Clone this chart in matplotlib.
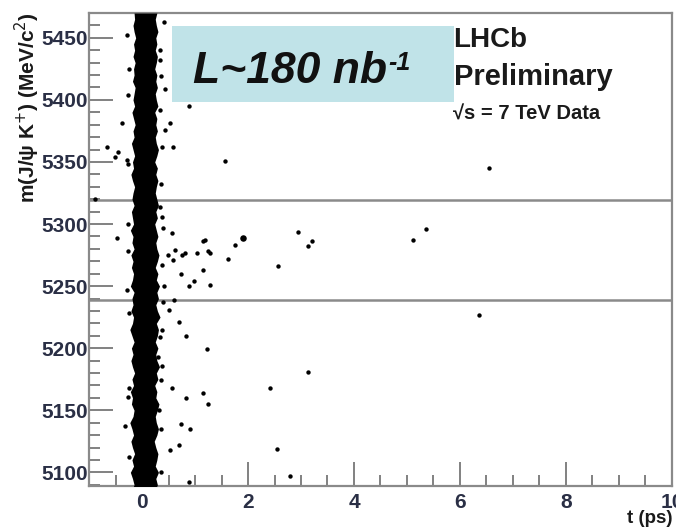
import numpy as np
import matplotlib.pyplot as plt
from matplotlib.patches import Rectangle
from matplotlib.ticker import MultipleLocator

plt.rcParams['font.family'] = ['Liberation Sans', 'DejaVu Sans']

# dense prompt band around t=0: edges every 5 MeV
band_mass = np.arange(5080, 5471, 5)
band_left = [-0.17, -0.20, -0.15, -0.18, -0.22, -0.16, -0.19, -0.14, -0.18, -0.21,
             -0.16, -0.19, -0.23, -0.17, -0.15, -0.20, -0.18, -0.22, -0.16, -0.19,
             -0.14, -0.18, -0.21, -0.17, -0.20, -0.15, -0.19, -0.23, -0.18, -0.16,
             -0.21, -0.17, -0.19, -0.15, -0.22, -0.18, -0.16, -0.20, -0.17, -0.21,
             -0.15, -0.19, -0.17, -0.22, -0.16, -0.18, -0.20, -0.15, -0.19, -0.17,
             -0.14, -0.18, -0.21, -0.16, -0.18, -0.14, -0.17, -0.20, -0.15, -0.17,
             -0.13, -0.16, -0.19, -0.14, -0.17, -0.15, -0.13, -0.18, -0.15, -0.16,
             -0.13, -0.17, -0.14, -0.16, -0.12, -0.15, -0.17, -0.14, -0.15]
band_right = [0.27, 0.24, 0.29, 0.26, 0.31, 0.25, 0.28, 0.30, 0.26, 0.23,
              0.28, 0.31, 0.27, 0.25, 0.29, 0.32, 0.26, 0.28, 0.24, 0.30,
              0.27, 0.33, 0.28, 0.26, 0.30, 0.25, 0.29, 0.31, 0.27, 0.34,
              0.29, 0.26, 0.31, 0.28, 0.33, 0.27, 0.30, 0.25, 0.29, 0.32,
              0.28, 0.26, 0.30, 0.27, 0.24, 0.29, 0.26, 0.31, 0.28, 0.25,
              0.27, 0.30, 0.26, 0.29, 0.24, 0.28, 0.31, 0.27, 0.25, 0.29,
              0.26, 0.28, 0.24, 0.30, 0.27, 0.25, 0.29, 0.26, 0.28, 0.24,
              0.27, 0.29, 0.25, 0.28, 0.26, 0.30, 0.27, 0.25, 0.28]

# isolated candidates
t_pts = [-0.29, 0.88, 1.56, 6.55, 0.41, 0.36, 0.44, -0.38, -0.66, -0.51,
         -0.45, -0.29, -0.26, 0.38, 0.59, 0.43, 0.53, 0.33, -0.89, 0.37,
         0.39, 0.56, 0.49, 0.62, 0.58, 0.75, 0.81, 1.03, 1.15, 1.19,
         1.29, 1.25, 1.63, 1.76, 2.57, 2.94, 3.14, 3.21, 5.12, 5.35,
         0.73, 1.16, 0.88, 0.98, 1.29, 0.42, 0.61, 0.50, 0.69, 0.83,
         1.22, 6.35, 3.14, 2.41, 0.56, 0.83, 1.15, 1.25, 0.73, 0.91,
         0.53, 0.69, 2.55, 2.80, 0.88, -0.48, -0.26, -0.29, -0.32, 0.34,
         0.35, 0.31, 0.36, 0.40, 0.37, -0.25, -0.27, 0.33, 0.36, 0.35,
         -0.24, -0.26, 0.32, 0.37, -0.27, -0.25, 0.34, 0.38, -0.24, 0.33]
m_pts = [5452, 5395, 5351, 5345, 5463, 5419, 5409, 5381, 5362, 5354,
         5358, 5352, 5348, 5362, 5362, 5376, 5381, 5392, 5320, 5306,
         5297, 5293, 5275, 5279, 5271, 5275, 5277, 5277, 5286, 5287,
         5277, 5278, 5272, 5283, 5266, 5294, 5282, 5286, 5287, 5296,
         5260, 5263, 5250, 5254, 5251, 5250, 5239, 5231, 5221, 5210,
         5199, 5227, 5181, 5168, 5168, 5160, 5164, 5155, 5139, 5135,
         5118, 5122, 5119, 5097, 5092, 5289, 5278, 5247, 5137, 5209,
         5174, 5193, 5135, 5237, 5267, 5168, 5161, 5440, 5332, 5100,
         5425, 5300, 5150, 5215, 5404, 5228, 5432, 5186, 5112, 5314]
big_t = [1.90]
big_m = [5288.5]

# signal window
window_lo = 5239
window_hi = 5319

fig = plt.figure(figsize=(6.76, 5.29), dpi=100)
ax = fig.add_axes([0.1317, 0.0813, 0.8623, 0.8941])

ax.fill_betweenx(band_mass, band_left, band_right,
                 color='black', lw=0, zorder=3)
ax.scatter(t_pts, m_pts, s=10, color='black', lw=0, zorder=4)
ax.scatter(big_t, big_m, s=22, color='black', lw=0, zorder=4)

for m in (window_lo, window_hi):
    ax.axhline(m, color='#8a8a8a', lw=1.8, zorder=2)

ax.add_patch(Rectangle((0.57, 5398.4), 5.31, 61.3, facecolor='#c0e3e8',
                       edgecolor='none', zorder=1))
lumi = ax.text(0.96, 5413.5, 'L~180 nb', fontsize=32, fontweight='bold',
               fontstyle='italic', ha='left', va='baseline',
               color='#111111', zorder=5)
ax.annotate('-1', xy=(1.0, 1.0), xycoords=lumi, xytext=(1, 0),
            textcoords='offset points', fontsize=18, fontweight='bold',
            fontstyle='italic', ha='left', va='top', color='#111111', zorder=5)

ax.text(5.88, 5442.5, 'LHCb', fontsize=20, fontweight='bold', color='#1a1a1a',
        ha='left', va='baseline')
ax.text(5.88, 5412, 'Preliminary', fontsize=21, fontweight='bold',
        color='#1a1a1a', ha='left', va='baseline')
ax.text(5.86, 5384, '\u221as = 7 TeV Data', fontsize=14.5,
        fontweight='bold', color='#1a1a1a', ha='left', va='baseline')

ax.set_xlim(-1, 10)
ax.set_ylim(5089, 5470)
ax.xaxis.set_major_locator(MultipleLocator(2))
ax.xaxis.set_minor_locator(MultipleLocator(0.5))
ax.yaxis.set_major_locator(MultipleLocator(50))
ax.yaxis.set_minor_locator(MultipleLocator(10))
ax.set_xticks([0, 2, 4, 6, 8, 10])
ax.tick_params(which='both', direction='in', color='#777777', width=1.3,
               labelsize=15, labelcolor='#2a2f45', top=False, right=False)
ax.tick_params(which='major', length=17)
ax.tick_params(which='minor', length=8)
ax.tick_params(axis='y', pad=1)
ax.tick_params(axis='x', pad=5)
for lab in ax.get_xticklabels() + ax.get_yticklabels():
    lab.set_fontweight('bold')
for sp in ax.spines.values():
    sp.set_color('#8a8a8a')
    sp.set_linewidth(1.6)

fig.text(0.995, 0.003, 't (ps)', fontsize=13.5, fontweight='bold',
         ha='right', va='bottom', color='#1a1a1a')
fig.text(0.041, 0.977, 'm(J/\u03c8 K$^{+}$) (MeV/c$^{2}$)', fontsize=15,
         fontweight='bold', rotation=90, ha='center', va='top', color='#1a1a1a')

fig.savefig('out.png', dpi=100)
